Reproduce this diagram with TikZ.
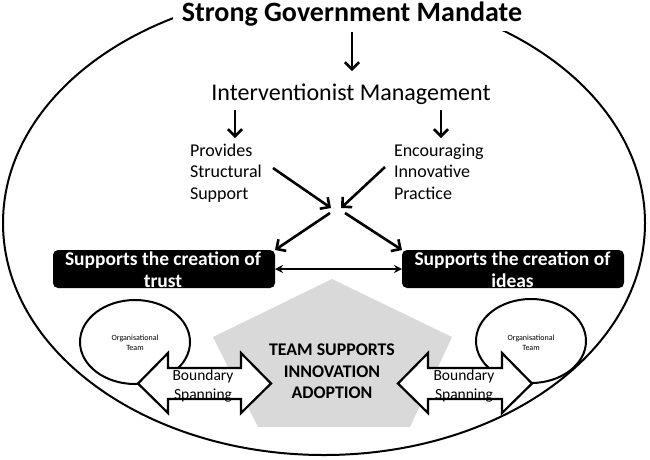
\documentclass[tikz,border=0pt]{standalone}
\usepackage{fontspec}
\setmainfont{Carlito}
\usetikzlibrary{arrows.meta,shapes.geometric}
\definecolor{pentagray}{HTML}{D9D9D9}
\begin{document}
\begin{tikzpicture}[x=1pt,y=-1pt,
  every node/.style={inner sep=0pt, outer sep=0pt},
  bigarrow/.style={line width=2.6pt, -{Straight Barb[length=7pt,width=14pt]}},
  dblarrow/.style={line width=1.8pt, {Stealth[length=8pt,width=8pt]}-{Stealth[length=8pt,width=8pt]}},
  blackbox/.style={fill=black, rounded corners=5pt, minimum width=222pt, minimum height=38pt},
  boxtext/.style={font=\fontsize{19.5}{23}\selectfont\bfseries, text=white, anchor=base},
  midtext/.style={font=\fontsize{18}{22}\selectfont, anchor=base west},
  teamtext/.style={font=\fontsize{17.8}{22}\selectfont\bfseries, anchor=base},
  bstext/.style={font=\fontsize{15.5}{19}\selectfont, anchor=base},
  orgtext/.style={font=\fontsize{8}{10}\selectfont, anchor=base},
  orgell/.style={draw, line width=2pt, ellipse, minimum width=110pt, minimum height=84pt},
  blockarrow/.style={draw, fill=white, line width=2.2pt, line join=miter}
]
\useasboundingbox (0,0) rectangle (650,459);
\clip (0,0) rectangle (650,459);
% outer ellipse
\draw[line width=2pt] (324,223) ellipse [x radius=321pt, y radius=232pt];
% title
\fill[white] (173,-2) rectangle (530,31);
\node[font=\fontsize{28}{34}\selectfont\bfseries, anchor=base] (title) at (352,21) {Strong Government Mandate};
\coordinate (t1) at (352,32);
\coordinate (t2) at (352,71);
\draw[bigarrow] (t1) -- (t2);
\node[font=\fontsize{24}{29}\selectfont, anchor=base] (im) at (351,100) {Interventionist Management};
\coordinate (l1) at (235,110); \coordinate (l2) at (235,138);
\coordinate (r1) at (441,110); \coordinate (r2) at (441,138);
\draw[bigarrow] (l1) -- (l2);
\draw[bigarrow] (r1) -- (r2);
% mid texts
\node[midtext] (p1) at (190,156) {Provides};
\node[midtext] (p2) at (190,177.5) {Structural};
\node[midtext] (p3) at (190,199) {Support};
\node[midtext] (e1) at (394,156) {Encouraging};
\node[midtext] (e2) at (394,177.5) {Innovative};
\node[midtext] (e3) at (394,199) {Practice};
% diagonal arrows
\coordinate (a1) at (273,168); \coordinate (a2) at (331,208);
\coordinate (b1) at (385,167); \coordinate (b2) at (341,208);
\coordinate (c1) at (330,213);
\coordinate (d1) at (345,213);
% pentagon
\fill[pentagray] (332,279) -- (452,337) -- (410,427) -- (258,427) -- (213,337) -- cycle;
% boxes
\node[blackbox] (trust) at (164,269) {};
\node[blackbox] (ideas) at (513,269) {};
\node[boxtext] (tt1) at (163,265) {Supports the creation of};
\node[boxtext] (tt2) at (163,287) {trust};
\node[boxtext] (it1) at (512.5,265) {Supports the creation of};
\node[boxtext] (it2) at (512.5,287) {ideas};
\draw[bigarrow] (a1) -- (a2);
\draw[bigarrow] (b1) -- (b2);
\draw[bigarrow] (c1) -- (trust.north east);
\draw[bigarrow] (d1) -- (ideas.north west);
\draw[dblarrow] (trust.east) -- (ideas.west);
% team text
\node[teamtext] (tm1) at (332,355) {TEAM SUPPORTS};
\node[teamtext] (tm2) at (332,377) {INNOVATION};
\node[teamtext] (tm3) at (332,398) {ADOPTION};
% organisational teams
\node[orgell] (org1) at (135,342) {};
\node[orgell] (org2) at (531,341) {};
\node[orgtext] (o1a) at (135,340) {Organisational};
\node[orgtext] (o1b) at (135,350) {Team};
\node[orgtext] (o2a) at (531,340) {Organisational};
\node[orgtext] (o2b) at (531,350) {Team};
% block arrows
\draw[blockarrow] (138,383.5) -- (168,353) -- (168,368) -- (241,368) -- (241,353) -- (271,383.5)
  -- (241,413) -- (241,399) -- (168,399) -- (168,413) -- cycle;
\draw[blockarrow] (398,383.5) -- (428,353) -- (428,368) -- (502,368) -- (502,353) -- (532,383.5)
  -- (502,413) -- (502,399) -- (428,399) -- (428,413) -- cycle;
\node[bstext] (bs1) at (203,380) {Boundary};
\node[bstext] (bs2) at (203,399) {Spanning};
\node[bstext] (bs3) at (464,380) {Boundary};
\node[bstext] (bs4) at (464,399) {Spanning};
\end{tikzpicture}
\end{document}
